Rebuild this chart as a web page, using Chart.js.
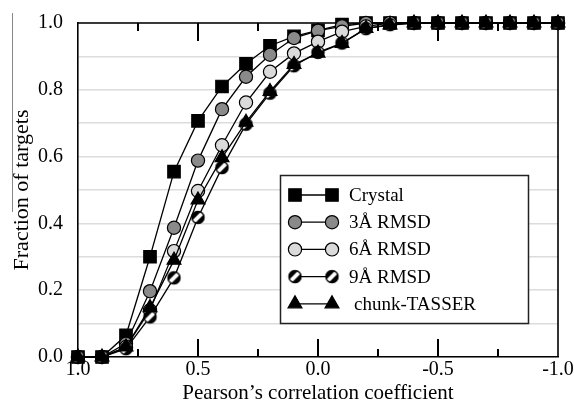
<!DOCTYPE html>
<html><head><meta charset="utf-8">
<script src="https://cdn.jsdelivr.net/npm/chart.js@4/dist/chart.umd.min.js"></script>
<style>html,body{margin:0;padding:0;background:#fff}</style>
</head><body>
<canvas id="c" width="574" height="412"></canvas>
<script>
const xValues = [1.0,0.9,0.8,0.7,0.6,0.5,0.4,0.3,0.2,0.1,0.0,-0.1,-0.2,-0.3,-0.4,-0.5,-0.6,-0.7,-0.8,-0.9,-1.0];
const crystal = [0,0,0.065,0.30,0.555,0.707,0.81,0.878,0.932,0.96,0.978,0.995,1,1,1,1,1,1,1,1,1];
const rmsd3   = [0,0,0.04,0.197,0.387,0.588,0.742,0.839,0.905,0.955,0.977,0.99,1,1,1,1,1,1,1,1,1];
const rmsd6   = [0,0,0.03,0.14,0.317,0.497,0.634,0.762,0.854,0.909,0.944,0.974,0.99,1,1,1,1,1,1,1,1];
const rmsd9   = [0,0,0.025,0.12,0.237,0.418,0.567,0.697,0.79,0.872,0.912,0.94,0.983,0.995,1,1,1,1,1,1,1];
const tasser  = [0,0,0.03,0.148,0.29,0.47,0.597,0.703,0.795,0.876,0.91,0.939,0.984,0.994,1,1,1,1,1,1,1];
const seriesNames = ['Crystal','3Å RMSD','6Å RMSD','9Å RMSD','chunk-TASSER'];
const xTickValues = [1,0.5,0,-0.5,-1];
const xTickLabels = ['1.0','0.5','0.0','-0.5','-1.0'];
const xMarkValues = [0.75,0.5,0.25,0,-0.25,-0.5,-0.75];
const yTickLabels = ['0.0','0.2','0.4','0.6','0.8','1.0'];
const xTitle = 'Pearson\u2019s correlation coefficient';
const yTitle = 'Fraction of targets';

const FONT = 'Liberation Serif';

function hatchMarker(r){
  const s = Math.ceil(r*2+4);
  const c = document.createElement('canvas'); c.width = s; c.height = s;
  const g = c.getContext('2d'); const cx = s/2, cy = s/2;
  g.save(); g.beginPath(); g.arc(cx,cy,r,0,Math.PI*2); g.clip();
  g.fillStyle = '#000'; g.fillRect(0,0,s,s);
  g.strokeStyle = '#fff'; g.lineWidth = r*0.6;
  g.beginPath(); g.moveTo(cx-r, cy+r); g.lineTo(cx+r, cy-r); g.stroke();
  g.restore();
  g.beginPath(); g.arc(cx,cy,r-0.4,0,Math.PI*2); g.strokeStyle='#000'; g.lineWidth=1.3; g.stroke();
  return c;
}
const hatch = hatchMarker(6.5);

const styles = [
  {pointStyle:'rect', radius:8.8, bg:'#000'},
  {pointStyle:'circle', radius:6.6, bg:'#8a8a8a'},
  {pointStyle:'circle', radius:6.6, bg:'#dadada'},
  {pointStyle:hatch, radius:6.6, bg:'#000'},
  {pointStyle:'triangle', radius:8, bg:'#000'}
];
const seriesData = [crystal, rmsd3, rmsd6, rmsd9, tasser];

const datasets = seriesData.map((arr,k)=>({
  label: seriesNames[k],
  data: xValues.map((x,i)=>({x:x, y:arr[i]})),
  borderColor:'#000', borderWidth:1.3,
  pointStyle: styles[k].pointStyle, pointRadius: styles[k].radius,
  pointBackgroundColor: styles[k].bg, pointBorderColor:'#000', pointBorderWidth:1.2,
  fill:false, tension:0, clip:false, order: 5-k
}));

const framePlugin = {
  id:'frame',
  beforeDatasetsDraw(chart){
    const ctx = chart.ctx, a = chart.chartArea, xs = chart.scales.x;
    ctx.save();
    ctx.strokeStyle = '#000'; ctx.lineWidth = 1.6;
    ctx.beginPath();
    ctx.moveTo(a.left, a.top); ctx.lineTo(a.right, a.top); ctx.lineTo(a.right, a.bottom);
    ctx.stroke();
    // inside tick marks on bottom and top edges
    ctx.lineWidth = 2;
    xMarkValues.forEach(v=>{
      const px = Math.round(xs.getPixelForValue(v));
      const major = Math.abs(v*2 - Math.round(v*2)) < 1e-9;
      const len = major ? 18 : 8;
      ctx.beginPath();
      ctx.moveTo(px, a.bottom); ctx.lineTo(px, a.bottom - len);
      ctx.moveTo(px, a.top); ctx.lineTo(px, a.top + len);
      ctx.stroke();
    });
    ctx.strokeStyle = '#888'; ctx.lineWidth = 1;
    ctx.beginPath(); ctx.moveTo(12.5, 13); ctx.lineTo(12.5, 212); ctx.stroke();
    ctx.restore();
  }
};

const legendPlugin = {
  id:'boxLegend',
  afterDraw(chart){
    const ctx = chart.ctx;
    ctx.save();
    const bx = 280, by = 175, bw = 248, bh = 148;
    ctx.fillStyle = '#fff'; ctx.fillRect(bx, by, bw, bh);
    ctx.strokeStyle = '#222'; ctx.lineWidth = 1.5; ctx.strokeRect(bx+0.5, by+0.5, bw, bh);
    chart.data.datasets.forEach((ds,k)=>{
      const y = 195 + k*27.2;
      const x1 = 295, x2 = 332;
      ctx.strokeStyle = '#000'; ctx.lineWidth = 1.3;
      ctx.beginPath(); ctx.moveTo(x1,y); ctx.lineTo(x2,y); ctx.stroke();
      [x1,x2].forEach(px=>{
        ctx.fillStyle = ds.pointBackgroundColor; ctx.strokeStyle = '#000'; ctx.lineWidth = 1.2;
        Chart.helpers.drawPoint(ctx, {pointStyle: ds.pointStyle, radius: ds.pointRadius, rotation:0, borderWidth:1.2}, px, y);
      });
      ctx.fillStyle = '#000'; ctx.font = '19px "' + FONT + '"'; ctx.textBaseline = 'middle'; ctx.textAlign='left';
      ctx.fillText(ds.label, k===4 ? 354 : 349, y+1);
    });
    ctx.restore();
  }
};

new Chart(document.getElementById('c').getContext('2d'), {
  type:'line',
  data:{datasets},
  options:{
    responsive:false, animation:false, devicePixelRatio:1,
    layout:{padding:{top:23,right:16,left:0,bottom:0}},
    plugins:{legend:{display:false}, tooltip:{enabled:false}},
    scales:{
      x:{type:'linear', min:-1, max:1, reverse:true,
        ticks:{stepSize:0.5, autoSkip:false, maxRotation:0, color:'#000', padding:1,
          font:{family:FONT, size:20},
          callback:(v)=>{const i = xTickValues.findIndex(t=>Math.abs(t-v)<1e-9); return i<0?'':xTickLabels[i];}},
        grid:{display:false, drawTicks:false},
        border:{display:true, color:'#000', width:1.6},
        title:{display:true, text:xTitle, color:'#000', font:{family:FONT, size:21}, padding:{top:0,bottom:6}},
        afterFit:(s)=>{s.height = 55; s.paddingLeft = 0; s.paddingRight = 0;}
      },
      y:{type:'linear', min:0, max:1,
        ticks:{stepSize:0.1, color:'#000', padding:15, font:{family:FONT, size:20},
          callback:(v,i)=> (i%2===0 ? yTickLabels[i/2] : '')},
        grid:{color:'#dcdcdc', lineWidth:1.5, drawTicks:false},
        border:{display:true, color:'#000', width:1.6},
        title:{display:true, text:yTitle, color:'#000', font:{family:FONT, size:22}, padding:{top:9,bottom:0}},
        afterFit:(s)=>{s.width = 78; s.paddingTop = 0; s.paddingBottom = 0;}
      }
    }
  },
  plugins:[framePlugin, legendPlugin]
});
</script>
</body></html>
